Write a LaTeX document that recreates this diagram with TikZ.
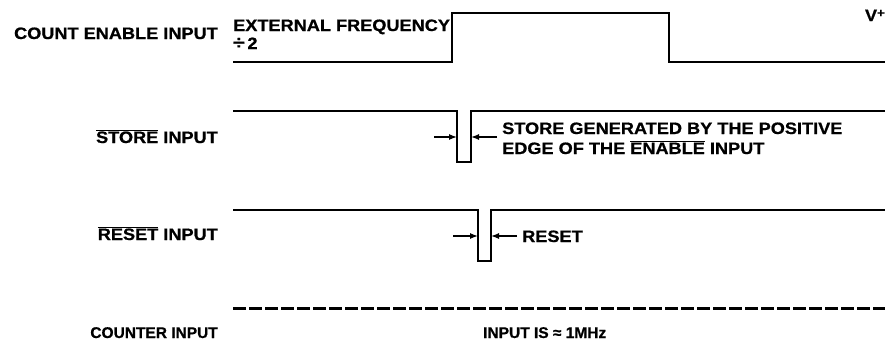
\documentclass[tikz,border=0pt]{standalone}
\usepackage{fontspec}
\setmainfont{Liberation Sans}
\newfontfamily\wfont{Liberation Sans}[FakeStretch=1.1,FakeBold=0.8]
\newfontfamily\cfont{Liberation Sans}[FakeBold=0.8]
\usetikzlibrary{arrows.meta}
\newcommand{\ovl}[1]{$\overline{\hbox{#1}}$}
\begin{document}
\begin{tikzpicture}[x=1pt,y=-1pt,
  sig/.style={line width=2pt,line join=miter},
  dsig/.style={line width=3pt,dash pattern=on 13pt off 3pt},
  lab/.style={inner sep=0pt,font=\wfont\bfseries\fontsize{16.5}{19}\selectfont},
  clab/.style={inner sep=0pt,font=\cfont\bfseries\fontsize{15.5}{18}\selectfont},
  ptr/.style={line width=1.3pt,-{Latex[length=8pt,width=6pt]}}]
\useasboundingbox (0,0) rectangle (892,356);
% count enable
\coordinate (ce0) at (233,62);
\coordinate (ce1) at (452,62);
\coordinate (ce2) at (452,13);
\coordinate (ce3) at (669,13);
\coordinate (ce4) at (669,62);
\coordinate (ce5) at (885,62);
\draw[sig] (ce0) -- (ce1) -- (ce2) -- (ce3) -- (ce4) -- (ce5);
% store
\coordinate (st0) at (233,111);
\coordinate (st1) at (457,111);
\coordinate (st2) at (457,162);
\coordinate (st3) at (471,162);
\coordinate (st4) at (471,111);
\coordinate (st5) at (885,111);
\draw[sig] (st0) -- (st1) -- (st2) -- (st3) -- (st4) -- (st5);
\coordinate (sa0) at (434,137);
\coordinate (sa1) at (457,137);
\coordinate (sb0) at (497,137);
\coordinate (sb1) at (471,137);
\draw[ptr] (sa0) -- (sa1);
\draw[ptr] (sb0) -- (sb1);
% reset
\coordinate (rs0) at (233,210);
\coordinate (rs1) at (478,210);
\coordinate (rs2) at (478,261);
\coordinate (rs3) at (491,261);
\coordinate (rs4) at (491,210);
\coordinate (rs5) at (885,210);
\draw[sig] (rs0) -- (rs1) -- (rs2) -- (rs3) -- (rs4) -- (rs5);
\coordinate (ra0) at (453,236);
\coordinate (ra1) at (478,236);
\coordinate (rb0) at (517,236);
\coordinate (rb1) at (491,236);
\draw[ptr] (ra0) -- (ra1);
\draw[ptr] (rb0) -- (rb1);
% counter
\coordinate (cn0) at (233,308);
\coordinate (cn1) at (885,308);
\draw[dsig] (cn0) -- (cn1);
% labels
\node[lab,anchor=base east] (lce) at (218,39) {COUNT ENABLE INPUT};
\node[lab,anchor=base west] (lext) at (233,31) {EXTERNAL FREQUENCY};
\node[lab,anchor=base west] (ldiv) at (233,49) {{\fontsize{19}{19}\selectfont ÷}\,2};
\node[lab,anchor=base east] (lvp) at (885,21) {V\raisebox{4pt}{\fontsize{12}{12}\selectfont +}};
\node[lab,anchor=base east] (lst) at (218,143) {\ovl{STORE} INPUT};
\node[lab,anchor=base west] (lan1) at (502,134) {STORE GENERATED BY THE POSITIVE};
\node[lab,anchor=base west] (lan2) at (502,154) {EDGE OF THE \ovl{ENABLE} INPUT};
\node[lab,anchor=base east] (lrs) at (218,240) {\ovl{RESET} INPUT};
\node[lab,anchor=base west] (lrl) at (522,242) {RESET};
\node[clab,anchor=base east] (lcn) at (218,338) {COUNTER INPUT};
\node[clab,anchor=base west] (lin) at (483,338) {INPUT IS ≈ 1MHz};
\end{tikzpicture}
\end{document}
